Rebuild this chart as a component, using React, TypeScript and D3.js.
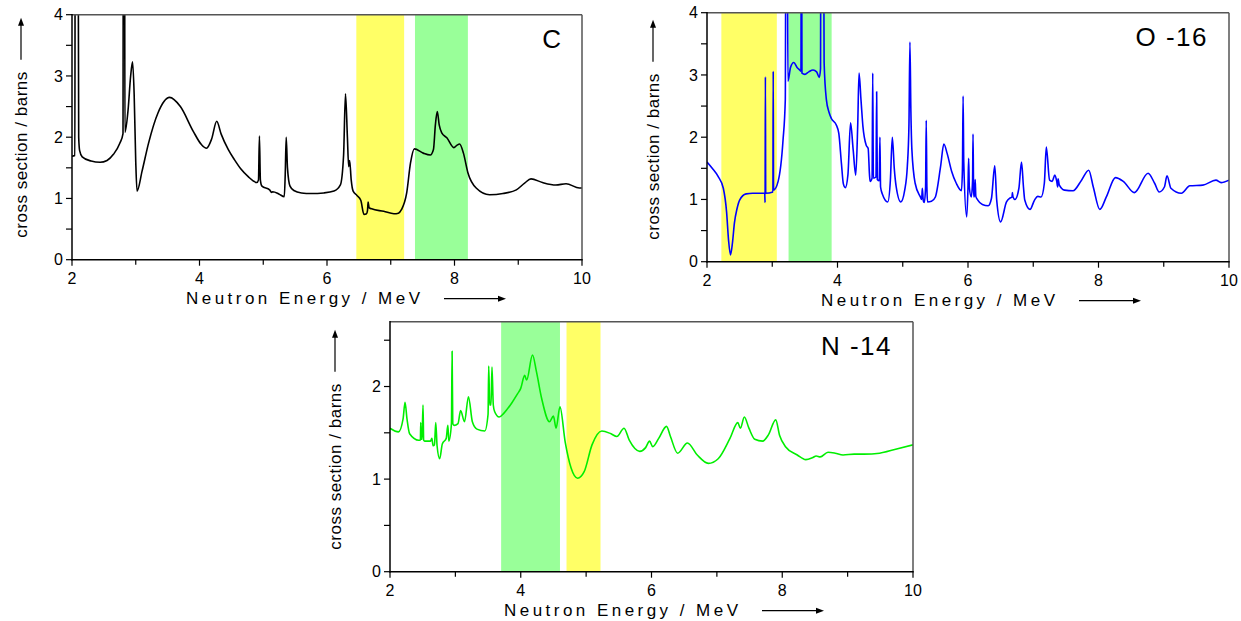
import React from 'react';
import * as d3 from 'd3';

type Pt = [number, number];

const xMajorTicks = [2, 4, 6, 8, 10];
const xMinorTicks = [3, 5, 7, 9];
const yMajorTicks4 = [0, 1, 2, 3, 4];
const yMinorTicks4 = [0.5, 1.5, 2.5, 3.5];
const yMajorTicksN = [0, 1, 2];
const yMinorTicksN = [0.5, 1.5, 2.5];

const xTitle = 'Neutron Energy / MeV';
const yTitle = 'cross section / barns';

const carbonData: Pt[] = [
  [2.0, 1.69], [2.045, 1.7], [2.05, 6], [2.095, 6], [2.105, 2.0], [2.12, 1.78], [2.16, 1.68],
  [2.3, 1.61], [2.44, 1.59], [2.55, 1.62], [2.65, 1.72], [2.75, 1.9], [2.8, 2.06], [2.805, 6],
  [2.825, 6], [2.83, 2.08], [2.88, 2.45], [2.92, 3.0], [2.95, 3.23], [2.975, 2.7], [3.0, 1.6],
  [3.02, 1.12], [3.1, 1.45], [3.2, 1.9], [3.35, 2.4], [3.53, 2.65], [3.7, 2.5], [3.9, 2.1],
  [4.03, 1.88], [4.11, 1.82], [4.19, 1.97], [4.27, 2.26], [4.34, 2.05], [4.45, 1.8],
  [4.55, 1.63], [4.65, 1.48], [4.76, 1.36], [4.9, 1.26], [4.925, 1.3], [4.94, 2.02],
  [4.955, 1.3], [4.98, 1.2], [5.1, 1.14], [5.13, 1.1], [5.15, 1.11], [5.25, 1.07],
  [5.33, 1.03], [5.345, 1.4], [5.36, 2.0], [5.38, 1.5], [5.42, 1.2], [5.48, 1.13], [5.6, 1.09],
  [5.75, 1.08], [5.95, 1.09], [6.11, 1.12], [6.21, 1.22], [6.26, 1.7], [6.29, 2.71],
  [6.32, 2.0], [6.34, 1.52], [6.355, 1.62], [6.38, 1.3], [6.41, 1.12], [6.47, 1.05],
  [6.53, 0.97], [6.58, 0.74], [6.62, 0.75], [6.635, 0.8], [6.645, 0.94], [6.66, 0.85],
  [6.7, 0.83], [6.89, 0.79], [7.05, 0.75], [7.12, 0.76], [7.17, 0.82], [7.25, 1.09],
  [7.31, 1.58], [7.37, 1.81], [7.51, 1.74], [7.62, 1.71], [7.67, 1.8], [7.7, 2.2], [7.73, 2.42],
  [7.76, 2.2], [7.8, 2.07], [7.88, 1.99], [7.99, 1.83], [8.04, 1.87], [8.08, 1.89], [8.14, 1.74],
  [8.21, 1.42], [8.34, 1.17], [8.55, 1.06], [8.76, 1.08], [8.97, 1.14], [9.1, 1.25], [9.2, 1.32],
  [9.38, 1.26], [9.59, 1.22], [9.75, 1.24], [9.96, 1.17], [10, 1.17],
];

const oxygenData: Pt[] = [
  [2.0, 1.6], [2.08, 1.5], [2.17, 1.37], [2.25, 1.18], [2.3, 0.8], [2.33, 0.35], [2.36, 0.11],
  [2.39, 0.3], [2.42, 0.62], [2.46, 0.85], [2.5, 0.99], [2.6, 1.09], [2.7, 1.1], [2.86, 1.1],
  [2.885, 1.1], [2.89, 0.95], [2.895, 2.97], [2.9, 1.1], [3.01, 1.12], [3.015, 3.06],
  [3.02, 1.15], [3.09, 1.29], [3.165, 1.95], [3.2, 2.6], [3.21, 6], [3.23, 6], [3.24, 2.9],
  [3.28, 3.12], [3.33, 3.2], [3.38, 3.12], [3.42, 3.08], [3.44, 3.06], [3.445, 6], [3.45, 6],
  [3.455, 3.03], [3.5, 3.01], [3.56, 3.05], [3.625, 3.08], [3.68, 3.05], [3.72, 2.96],
  [3.74, 3.1], [3.745, 6], [3.785, 6], [3.795, 3.2], [3.83, 2.6], [3.87, 2.4], [3.906, 2.3],
  [3.98, 2.2], [4.02, 2.06], [4.06, 1.58], [4.09, 1.25], [4.12, 1.19], [4.16, 1.4], [4.2, 2.23],
  [4.24, 1.8], [4.28, 1.39], [4.31, 2.2], [4.33, 3.03], [4.36, 2.6], [4.39, 2.17], [4.44, 1.87],
  [4.47, 1.82], [4.49, 1.4], [4.5, 1.29], [4.53, 1.34], [4.54, 3.03], [4.55, 1.34], [4.59, 1.36],
  [4.6, 2.73], [4.61, 1.32], [4.64, 1.3], [4.65, 2.0], [4.66, 1.2], [4.69, 1.08], [4.77, 0.96],
  [4.81, 1.3], [4.84, 2.0], [4.87, 1.5], [4.9, 1.2], [4.97, 0.96], [5.03, 1.15], [5.07, 1.53],
  [5.095, 2.2], [5.11, 3.53], [5.125, 2.4], [5.14, 1.8], [5.19, 1.26], [5.27, 1.04], [5.29, 1.0],
  [5.3, 1.18], [5.315, 0.98], [5.33, 0.95], [5.35, 1.2], [5.36, 2.27], [5.37, 1.2], [5.38, 0.96],
  [5.44, 0.97], [5.5, 1.04], [5.58, 1.53], [5.63, 1.89], [5.68, 1.74], [5.75, 1.45], [5.82, 1.26],
  [5.9, 1.14], [5.915, 1.5], [5.925, 2.66], [5.935, 1.6], [5.98, 0.72], [6.0, 1.2], [6.01, 1.66],
  [6.02, 1.2], [6.05, 1.04], [6.07, 1.3], [6.077, 2.05], [6.085, 1.2], [6.09, 1.04], [6.105, 1.1],
  [6.11, 1.32], [6.12, 1.05], [6.15, 0.99], [6.22, 0.92], [6.31, 0.9], [6.36, 1.02], [6.41, 1.54],
  [6.44, 0.99], [6.5, 0.64], [6.59, 0.96], [6.64, 1.02], [6.675, 1.04], [6.68, 1.11], [6.69, 1.04],
  [6.72, 1.0], [6.78, 1.18], [6.82, 1.6], [6.85, 1.2], [6.87, 0.99], [6.95, 0.84], [7.02, 0.99],
  [7.07, 1.05], [7.12, 1.04], [7.17, 1.26], [7.2, 1.84], [7.25, 1.31], [7.29, 1.29], [7.33, 1.39],
  [7.36, 1.29], [7.375, 1.2], [7.38, 1.33], [7.4, 1.23], [7.48, 1.15], [7.61, 1.14], [7.74, 1.31],
  [7.85, 1.47], [7.92, 1.2], [8.02, 0.84], [8.12, 1.04], [8.26, 1.35], [8.38, 1.29], [8.55, 1.11],
  [8.76, 1.42], [8.86, 1.26], [8.93, 1.12], [9.01, 1.2], [9.05, 1.38], [9.11, 1.18], [9.27, 1.1],
  [9.4, 1.22], [9.6, 1.23], [9.8, 1.31], [9.88, 1.27], [10, 1.31],
];

const nitrogenData: Pt[] = [
  [2.0, 1.55], [2.13, 1.51], [2.2, 1.65], [2.23, 1.83], [2.26, 1.65], [2.3, 1.49], [2.44, 1.42],
  [2.465, 1.42], [2.47, 1.61], [2.475, 1.43], [2.49, 1.43], [2.505, 1.8], [2.515, 1.42],
  [2.53, 1.41], [2.62, 1.41], [2.64, 1.44], [2.66, 1.36], [2.68, 1.37], [2.7, 1.61], [2.72, 1.36],
  [2.76, 1.22], [2.8, 1.38], [2.86, 1.44], [2.885, 1.58], [2.9, 1.41], [2.94, 1.6], [2.95, 2.38],
  [2.96, 1.6], [2.98, 1.58], [3.04, 1.6], [3.08, 1.74], [3.14, 1.62], [3.2, 1.89], [3.26, 1.62],
  [3.33, 1.54], [3.45, 1.52], [3.5, 1.7], [3.51, 2.22], [3.525, 1.8], [3.545, 1.8], [3.56, 2.21],
  [3.58, 1.8], [3.6, 1.73], [3.67, 1.67], [3.74, 1.71], [3.86, 1.82], [3.95, 1.92], [4.0, 1.98],
  [4.06, 2.12], [4.09, 2.07], [4.18, 2.34], [4.24, 2.16], [4.32, 1.87], [4.44, 1.62], [4.5, 1.68],
  [4.54, 1.55], [4.6, 1.78], [4.68, 1.4], [4.77, 1.12], [4.87, 1.01], [4.97, 1.08], [5.09, 1.37],
  [5.24, 1.52], [5.38, 1.49], [5.47, 1.46], [5.58, 1.55], [5.66, 1.42], [5.82, 1.3], [5.91, 1.34],
  [5.97, 1.41], [6.02, 1.35], [6.11, 1.44], [6.23, 1.57], [6.29, 1.46], [6.4, 1.28], [6.55, 1.39],
  [6.7, 1.26], [6.87, 1.17], [7.02, 1.22], [7.2, 1.44], [7.32, 1.61], [7.36, 1.55], [7.42, 1.67],
  [7.49, 1.55], [7.58, 1.43], [7.7, 1.41], [7.79, 1.48], [7.9, 1.64], [7.96, 1.47], [8.05, 1.35],
  [8.23, 1.26], [8.36, 1.21], [8.46, 1.23], [8.52, 1.25], [8.58, 1.24], [8.7, 1.29], [8.81, 1.28],
  [8.93, 1.26], [9.1, 1.27], [9.25, 1.27], [9.49, 1.28], [9.72, 1.32], [10, 1.37],
];

type Band = { from: number; to: number; color: string };
const carbonBands: Band[] = [
  { from: 6.46, to: 7.21, color: '#ffff66' },
  { from: 7.38, to: 8.21, color: '#99ff99' },
];
const oxygenBands: Band[] = [
  { from: 2.22, to: 3.07, color: '#ffff66' },
  { from: 3.25, to: 3.91, color: '#99ff99' },
];
const nitrogenBands: Band[] = [
  { from: 3.7, to: 4.6, color: '#99ff99' },
  { from: 4.7, to: 5.22, color: '#ffff66' },
];

const FONT = '"Liberation Sans", Arial, Helvetica, sans-serif';

type PanelProps = {
  id: string;
  left: number; right: number; top: number; bottom: number;
  ymax: number; yMajor: number[]; yMinor: number[];
  data: Pt[]; color: string; label: string; bands: Band[]; yTitleOffset: number;
};

function Panel(p: PanelProps) {
  const x = d3.scaleLinear().domain([2, 10]).range([p.left, p.right]);
  const y = d3.scaleLinear().domain([0, p.ymax]).range([p.bottom, p.top]);
  const line = d3.line<Pt>().x(d => x(d[0])).y(d => y(d[1])).curve(d3.curveMonotoneX);
  const tick = 6;
  const yTitleX = p.left - p.yTitleOffset;
  const tStart = p.bottom - 22;
  const tLen = 166;
  const aStart = tStart - tLen - 12;
  const aEnd = aStart - 42;
  const xtStart = p.left + 114;
  const xtLen = 234;
  const xtY = p.bottom + 44;
  const xaStart = xtStart + xtLen + 24;
  const xaEnd = xaStart + 62;
  return (
    <g>
      <defs>
        <clipPath id={`clip-${p.id}`}>
          <rect x={p.left} y={p.top} width={p.right - p.left} height={p.bottom - p.top} />
        </clipPath>
      </defs>
      {p.bands.map((b, i) => (
        <rect key={i} x={x(b.from)} y={p.top} width={x(b.to) - x(b.from)} height={p.bottom - p.top} fill={b.color} />
      ))}
      <path d={line(p.data) || ''} fill="none" stroke={p.color} strokeWidth={1.6} clipPath={`url(#clip-${p.id})`} strokeLinejoin="round" />
      <line x1={p.left} x2={p.right} y1={p.top} y2={p.top} stroke="#555" strokeWidth={1.5} />
      <line x1={p.right} x2={p.right} y1={p.top} y2={p.bottom} stroke="#555" strokeWidth={1.5} />
      <line x1={p.left} x2={p.left} y1={p.top - 0.75} y2={p.bottom + 0.75} stroke="#000" strokeWidth={1.5} />
      <line x1={p.left - 0.75} x2={p.right + 0.75} y1={p.bottom} y2={p.bottom} stroke="#000" strokeWidth={1.5} />
      {xMajorTicks.map(t => (
        <g key={`xm${t}`}>
          <line x1={x(t)} x2={x(t)} y1={p.bottom} y2={p.bottom + tick} stroke="#000" strokeWidth={1.2} />
          <text x={x(t)} y={p.bottom + 24} textAnchor="middle" fontSize={16} fontFamily={FONT}>{t}</text>
        </g>
      ))}
      {xMinorTicks.map(t => (
        <line key={`xn${t}`} x1={x(t)} x2={x(t)} y1={p.bottom} y2={p.bottom + 5} stroke="#000" strokeWidth={1.2} />
      ))}
      {p.yMajor.map(t => (
        <g key={`ym${t}`}>
          <line x1={p.left - tick} x2={p.left} y1={y(t)} y2={y(t)} stroke="#000" strokeWidth={1.2} />
          <text x={p.left - 9} y={y(t)} dy="0.36em" textAnchor="end" fontSize={16} fontFamily={FONT}>{t}</text>
        </g>
      ))}
      {p.yMinor.map(t => (
        <line key={`yn${t}`} x1={p.left - tick} x2={p.left} y1={y(t)} y2={y(t)} stroke="#000" strokeWidth={1.2} />
      ))}
      <text x={p.right - 21} y={p.top + 33} textAnchor="end" fontSize={26} fontFamily={FONT} letterSpacing={p.label.length > 1 ? 1.5 : 0}>{p.label}</text>
      <text x={xtStart} y={xtY} fontSize={17} fontFamily={FONT} textLength={xtLen} lengthAdjust="spacing">{xTitle}</text>
      <line x1={xaStart} x2={xaEnd - 6} y1={xtY - 5} y2={xtY - 5} stroke="#000" strokeWidth={1.2} />
      <path d={`M${xaEnd},${xtY - 5} L${xaEnd - 8},${xtY - 8} L${xaEnd - 8},${xtY - 2} Z`} fill="#000" />
      <text transform={`translate(${yTitleX},${tStart}) rotate(-90)`} fontSize={17} fontFamily={FONT} dy="0.35em" textLength={tLen} lengthAdjust="spacing">{yTitle}</text>
      <line x1={yTitleX} x2={yTitleX} y1={aStart} y2={aEnd + 6} stroke="#000" strokeWidth={1.2} />
      <path d={`M${yTitleX},${aEnd} L${yTitleX - 3},${aEnd + 8} L${yTitleX + 3},${aEnd + 8} Z`} fill="#000" />
    </g>
  );
}

export default function App() {
  return (
    <svg width={1241} height={621} style={{ position: 'absolute', left: 0, top: 0, background: '#fff' }}>
      <rect width={1241} height={621} fill="#fff" />
      <Panel id="c" left={72} right={582} top={14.7} bottom={259.7} ymax={4} yMajor={yMajorTicks4} yMinor={yMinorTicks4}
        data={carbonData} color="#000" label="C" bands={carbonBands} yTitleOffset={51} />
      <Panel id="o" left={707} right={1229} top={12.7} bottom={261.7} ymax={4} yMajor={yMajorTicks4} yMinor={yMinorTicks4}
        data={oxygenData} color="#0000ff" label="O -16" bands={oxygenBands} yTitleOffset={54} />
      <Panel id="n" left={390} right={913} top={321.7} bottom={571.7} ymax={2.7} yMajor={yMajorTicksN} yMinor={yMinorTicksN}
        data={nitrogenData} color="#00ee00" label="N -14" bands={nitrogenBands} yTitleOffset={55} />
    </svg>
  );
}
